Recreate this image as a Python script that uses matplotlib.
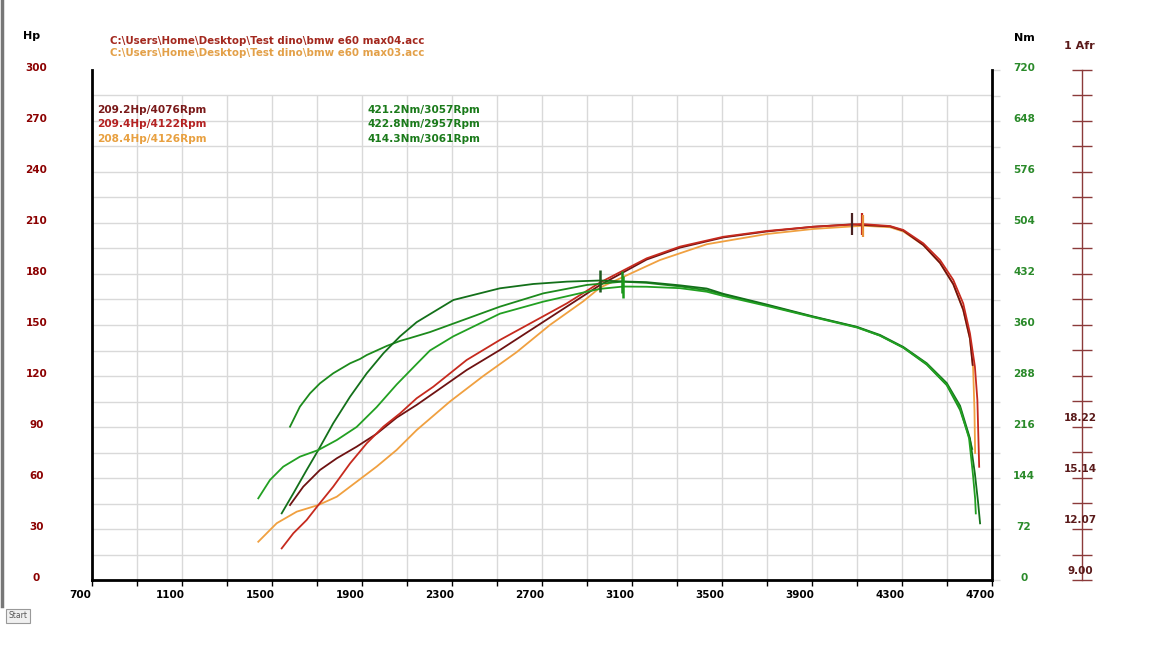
import numpy as np
import matplotlib
matplotlib.use("Agg")
import matplotlib.pyplot as plt
import matplotlib.transforms as mtransforms

# Dyno sheet: three runs (power in Hp, torque in Nm) against engine speed

# run 1 (dark red)
rpm_hp1 = [1580, 1639, 1713, 1788, 1876, 1965, 2054, 2143, 2217, 2365, 2513, 2661, 2810, 2958, 3165,
           3313, 3506, 3698, 3906, 4076, 4247, 4306, 4395, 4469, 4528, 4572, 4602, 4614]
hp1 = [44.1, 54.9, 64.7, 71.6, 78.4, 86.0, 95.5, 103.0, 109.8, 123.5, 135.3, 148.0, 160.8, 173.5, 188.5,
       195.5, 201.5, 205.0, 207.8, 209.2, 208.0, 205.5, 197.0, 186.5, 174.0, 159.0, 142.0, 126.5]
rpm_tq1 = [1580, 1624, 1669, 1713, 1772, 1847, 1891, 1921, 2010, 2069, 2113, 2202, 2306, 2513, 2706, 2899,
           3057, 3165, 3313, 3432, 3506, 3698, 3906, 4099, 4202, 4306, 4410, 4499, 4558, 4600, 4612]
tq1 = [216.4, 244.7, 263.5, 277.6, 291.8, 305.9, 312.0, 317.6, 330.4, 337.5, 341.5, 350.0, 362.0, 385.9, 404.7, 416.5,
       421.2, 419.5, 414.5, 409.0, 403.0, 388.0, 371.5, 357.0, 345.0, 328.0, 304.0, 275.0, 240.0, 200.0, 185.0]

# run 2 (red)
rpm_hp2 = [1543, 1595, 1654, 1706, 1772, 1847, 1921, 1995, 2069, 2143, 2217, 2365, 2513, 2661, 2810, 2958,
           3165, 3313, 3506, 3698, 3906, 4122, 4247, 4306, 4395, 4469, 4528, 4572, 4602, 4624, 4635, 4643]
hp2 = [18.6, 27.5, 35.3, 44.1, 54.9, 68.6, 80.4, 90.2, 98.0, 106.9, 113.7, 129.4, 141.2, 151.9, 162.7, 175.0,
       189.2, 196.1, 201.9, 205.3, 207.8, 209.4, 208.2, 205.9, 198.0, 188.2, 176.5, 162.7, 145.1, 125.5, 105.9, 66.6]
rpm_tq2 = [1543, 1595, 1654, 1706, 1772, 1847, 1921, 1995, 2069, 2143, 2306, 2513, 2661, 2810, 2957, 3061,
           3165, 3313, 3432, 3506, 3698, 3906, 4099, 4202, 4306, 4410, 4499, 4558, 4602, 4624, 4638, 4647]
tq2 = [94.1, 122.4, 155.3, 183.5, 221.2, 258.8, 291.8, 320.0, 344.0, 364.0, 395.3, 411.8, 417.9, 421.2, 422.8, 421.5,
       420.5, 416.0, 411.5, 404.0, 389.0, 372.0, 357.5, 346.0, 329.0, 306.0, 278.0, 246.0, 200.0, 150.0, 110.0, 80.0]

# run 3 (orange)
rpm_hp3 = [1439, 1521, 1610, 1706, 1788, 1876, 1965, 2054, 2143, 2291, 2439, 2587, 2735, 2884, 2958, 3224,
           3432, 3698, 3906, 4126, 4247, 4306, 4395, 4469, 4528, 4572, 4602, 4616, 4622, 4625]
hp3 = [22.5, 33.4, 40.2, 44.1, 49.0, 57.8, 66.7, 76.5, 88.2, 105.0, 120.0, 134.0, 150.0, 164.0, 172.0, 188.2,
       197.5, 203.5, 206.5, 208.4, 207.5, 205.0, 197.0, 186.5, 174.0, 159.0, 142.0, 125.0, 100.0, 74.7]
rpm_tq3 = [1439, 1491, 1550, 1624, 1706, 1788, 1876, 1965, 2054, 2143, 2202, 2306, 2513, 2706, 2899, 2958,
           3061, 3165, 3313, 3432, 3506, 3698, 3906, 4099, 4202, 4306, 4410, 4499, 4558, 4598, 4615, 4625, 4628]
tq3 = [115.3, 141.2, 160.0, 174.1, 183.5, 197.6, 216.0, 244.0, 276.0, 305.0, 324.0, 344.0, 376.0, 393.0, 407.0, 411.0,
       414.3, 414.0, 412.0, 407.0, 401.0, 387.0, 371.0, 356.5, 345.0, 328.0, 305.0, 276.0, 243.0, 200.0, 150.0, 115.0, 94.0]

# peak values shown in the header
hp_peak_rpm = [4076, 4122, 4126]
hp_peak = [209.2, 209.4, 208.4]
tq_peak_rpm = [3057, 2957, 3061]
tq_peak = [421.2, 422.8, 414.3]

files = [r"C:\Users\Home\Desktop\Test dino\bmw e60 max04.acc",
         r"C:\Users\Home\Desktop\Test dino\bmw e60 max03.acc"]

afr_labels = [9.00, 12.07, 15.14, 18.22]

hp_colors = ["#6e1212", "#c62a1e", "#f0a040"]
tq_colors = ["#1c8a1c", "#13701a", "#22a022"]
txt_colors = ["#7a1a1a", "#b42222", "#e8a040"]
file_colors = ["#a3281e", "#e3a048"]
green_txt = "#1a7a1a"

W, H = 1170, 658
fig = plt.figure(figsize=(W / 100, H / 100), dpi=100)
fig.patch.set_facecolor("white")
ax = fig.add_axes([92 / W, 78 / H, 900 / W, 510 / H])
ax2 = ax.twinx()
ax3 = ax.twinx()

ax.set_xlim(700, 4700)
ax.set_ylim(0, 300)
ax2.set_ylim(0, 720)

# grid (light grey), only up to 285 Hp
ax.hlines(np.arange(15, 300, 15), 700, 4700, color="#d9d9d9", lw=1, zorder=0)
ax.vlines(np.arange(900, 4700, 200), 0, 285, color="#d9d9d9", lw=1, zorder=0)

# power curves
ax.plot(rpm_hp3, hp3, color=hp_colors[2], lw=1.3)
ax.plot(rpm_hp1, hp1, color=hp_colors[0], lw=1.3)
ax.plot(rpm_hp2, hp2, color=hp_colors[1], lw=1.3)

# torque curves
ax2.plot(rpm_tq1, tq1, color=tq_colors[0], lw=1.3)
ax2.plot(rpm_tq2, tq2, color=tq_colors[1], lw=1.3)
ax2.plot(rpm_tq3, tq3, color=tq_colors[2], lw=1.3)

# peak markers
mk_hp = ["#4a2222", "#c0281e", "#e8903a"]
mk_tq = ["#1a8a1a", "#1f5a1f", "#1a9a1a"]
for i in range(3):
    ax.plot(hp_peak_rpm[i], hp_peak[i], marker="|", ms=16, mew=1.6, color=mk_hp[i])
    ax2.plot(tq_peak_rpm[i], tq_peak[i], marker="|", ms=16, mew=1.8, color=mk_tq[i])

# spines
for s in ["top", "right"]:
    ax.spines[s].set_visible(False)
for s in ["left", "bottom"]:
    ax.spines[s].set_linewidth(2)
    ax.spines[s].set_color("black")
for s in ["top", "left", "bottom"]:
    ax2.spines[s].set_visible(False)
    ax3.spines[s].set_visible(False)
ax2.spines["right"].set_linewidth(2)
ax2.spines["right"].set_color("black")

# x axis
ax.set_xticks(np.arange(700, 4701, 400))
ax.set_xticks(np.arange(900, 4700, 400), minor=True)
ax.tick_params(axis="x", which="both", direction="out", length=4, width=1, color="black", pad=3)
ax.set_xticklabels([str(v) for v in range(700, 4701, 400)], fontsize=7.5, fontweight="bold")
dx = mtransforms.ScaledTranslation(-12 / 100, 0, fig.dpi_scale_trans)
for lbl in ax.get_xticklabels():
    lbl.set_transform(lbl.get_transform() + dx)

# left Hp axis
up = mtransforms.ScaledTranslation(0, 3 / 100, fig.dpi_scale_trans)
ax.set_yticks(np.arange(0, 301, 30))
ax.set_yticklabels([str(v) for v in range(0, 301, 30)], fontsize=7.5, fontweight="bold", color="#8b0000")
ax.tick_params(axis="y", length=0, pad=40)
for lbl in ax.get_yticklabels():
    lbl.set_ha("center")
    lbl.set_transform(lbl.get_transform() + up)

# right Nm axis
ax2.set_yticks(np.arange(0, 721, 72))
ax2.set_yticks(np.arange(36, 720, 72), minor=True)
ax2.set_yticklabels([str(v) for v in range(0, 721, 72)], fontsize=7.5, fontweight="bold", color="#2a8a2a")
ax2.tick_params(axis="y", which="both", direction="out", length=6, width=1, color="#d9d9d9", pad=17)
for lbl in ax2.get_yticklabels():
    lbl.set_ha("center")
    lbl.set_transform(lbl.get_transform() + up)

# Afr scale
afr_lo, afr_step = 9.0, 3.0733 / 2
ax3.spines["right"].set_position(("axes", 1.1))
ax3.spines["right"].set_color("#8b3a3a")
ax3.spines["right"].set_linewidth(1)
ax3.set_ylim(afr_lo, afr_lo + 20 * afr_step)
ax3.set_yticks(afr_lo + afr_step * np.arange(21))
ax3.tick_params(axis="y", direction="inout", length=14, width=1, color="#8b3a3a", labelright=False)
tr = mtransforms.blended_transform_factory(ax3.transAxes, ax3.transData) + \
    mtransforms.ScaledTranslation(-2 / 100, 9 / 100, fig.dpi_scale_trans)
for v in afr_labels:
    ax3.text(1.1, v, f"{v:.2f}", transform=tr, ha="center", va="center",
             fontsize=7.5, fontweight="bold", color="#5a1a1a")

# header texts
def fx(px):
    return px / W

def fy(py):
    return 1 - py / H

fig.text(fx(32), fy(36), "Hp", ha="center", va="center", fontsize=8, fontweight="bold")
fig.text(fx(1024), fy(38), "Nm", ha="center", va="center", fontsize=8, fontweight="bold")
fig.text(fx(1079), fy(46), "1 Afr", ha="center", va="center", fontsize=8, fontweight="bold", color="#5a1a1a")

for i, f in enumerate(files):
    fig.text(fx(110), fy(41 + 12.5 * i), f, ha="left", va="center", fontsize=7.4,
             fontweight="bold", color=file_colors[i])

for i in range(3):
    fig.text(fx(97), fy(110 + 14.3 * i), f"{hp_peak[i]:.1f}Hp/{hp_peak_rpm[i]}Rpm", ha="left",
             va="center", fontsize=7.6, fontweight="bold", color=txt_colors[i])
    fig.text(fx(368), fy(110 + 14.3 * i), f"{tq_peak[i]:.1f}Nm/{tq_peak_rpm[i]}Rpm", ha="left",
             va="center", fontsize=7.6, fontweight="bold", color=green_txt)

# bits of the screenshot window
fig.text(fx(18), fy(616), "Start", ha="center", va="center", fontsize=5.5, color="#555555",
         bbox=dict(boxstyle="square,pad=0.3", fc="#f0f0f0", ec="#999999", lw=0.8))
fig.add_artist(plt.Line2D([fx(1.5), fx(1.5)], [fy(0), fy(606)], color="#777777", lw=2.5))

fig.savefig("out.png", dpi=100)
